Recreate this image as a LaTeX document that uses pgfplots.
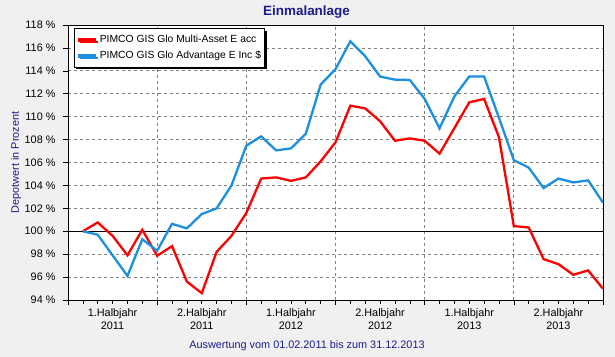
\documentclass[border=0pt]{standalone}
\usepackage{fontspec}
\setmainfont{Liberation Sans}
\usepackage{pgfplots}
\pgfplotsset{compat=1.18}
\usetikzlibrary{shadows}
\definecolor{bg}{HTML}{F0F0F0}
\definecolor{navy}{HTML}{1C1C8C}
\definecolor{myred}{HTML}{FF0000}
\definecolor{myblue}{HTML}{1B8FE0}
\definecolor{gridgray}{HTML}{808080}
\begin{document}
\begin{tikzpicture}
\fill[bg] (0bp,0bp) rectangle (615bp,357bp);
\begin{axis}[
  at={(68bp,57bp)}, anchor=south west,
  scale only axis, width=535bp, height=275bp,
  xmin=0, xmax=36, ymin=94, ymax=118,
  axis background/.style={fill=white},
  axis line style={line width=0.8bp, black},
  font=\fontsize{10.9}{13}\selectfont,
  xtick={0,6,...,36}, xticklabels={},
  minor xtick={1,...,35},
  ytick={94,96,...,118},
  yticklabel={\pgfmathparse{int(\tick)}\pgfmathresult~\%},
  tick align=outside,
  major tick length=5bp, minor tick length=3.5bp,
  tick style={black, line width=0.6bp},
  xtick pos=bottom, ytick pos=left,
  xmajorgrids, ymajorgrids,
  major grid style={gridgray, line width=0.7bp, dash pattern=on 3bp off 3bp},
  extra x ticks={3,9,...,33},
  extra x tick labels={{1.Halbjahr\\2011},{2.Halbjahr\\2011},{1.Halbjahr\\2012},{2.Halbjahr\\2012},{1.Halbjahr\\2013},{2.Halbjahr\\2013}},
  extra x tick style={major tick length=0pt, grid=none, xticklabel style={align=center, yshift=-5.5bp}},
  yticklabel style={xshift=-4bp},
  legend style={at={(rel axis cs:0.011,0.988)}, anchor=north west, draw=black, line width=0.8bp,
    fill=white, font=\fontsize{10.4}{12}\selectfont, inner xsep=2bp, inner ysep=4.5bp, row sep=2.5bp,
    drop shadow={shadow xshift=2bp, shadow yshift=-2bp, fill=black, opacity=1},
    nodes={inner ysep=2.2bp, inner xsep=1.5bp}},
  legend cell align=left,
  legend image code/.code={\draw[#1, line width=4bp] (0bp,0bp) -- (18bp,0bp);},
]
\addplot[black, line width=0.8bp, forget plot] coordinates {(0,100) (36,100)};
\addplot[myred, line width=2.3bp] coordinates {
(1,100.0) (2,100.77) (3,99.6) (4,97.9) (5,100.13) (6,97.86) (7,98.7) (8,95.6) (9,94.6)
(10,98.2) (11,99.6) (12,101.6) (13,104.6) (14,104.7) (15,104.4) (16,104.7) (17,106.1)
(18,107.76) (19,110.96) (20,110.72) (21,109.6) (22,107.9) (23,108.1) (24,107.9) (25,106.77)
(26,109.0) (27,111.25) (28,111.55) (29,108.2) (30,100.45) (31,100.33) (32,97.57) (33,97.13)
(34,96.2) (35,96.58) (36,94.98)};
\addlegendentry{PIMCO GIS Glo Multi-Asset E acc}
\addplot[myblue, line width=2.3bp] coordinates {
(1,100.0) (2,99.7) (3,97.9) (4,96.1) (5,99.3) (6,98.3) (7,100.65) (8,100.25) (9,101.5)
(10,102.0) (11,104.0) (12,107.47) (13,108.28) (14,107.06) (15,107.23) (16,108.5) (17,112.8)
(18,114.15) (19,116.58) (20,115.27) (21,113.5) (22,113.23) (23,113.2) (24,111.55) (25,108.98)
(26,111.77) (27,113.5) (28,113.5) (29,109.9) (30,106.2) (31,105.55) (32,103.77) (33,104.6)
(34,104.26) (35,104.44) (36,102.5)};
\addlegendentry{PIMCO GIS Glo Advantage E Inc \$}
\end{axis}
\node[navy, font=\bfseries\fontsize{13.5}{15}\selectfont] at (306.5bp,345bp) {Einmalanlage};
\node[navy, font=\fontsize{10.9}{13}\selectfont, rotate=90] at (16bp,194.5bp) {Depotwert in Prozent};
\node[navy, font=\fontsize{10.9}{13}\selectfont] at (307bp,11.5bp) {Auswertung vom 01.02.2011 bis zum 31.12.2013};
\end{tikzpicture}
\end{document}
